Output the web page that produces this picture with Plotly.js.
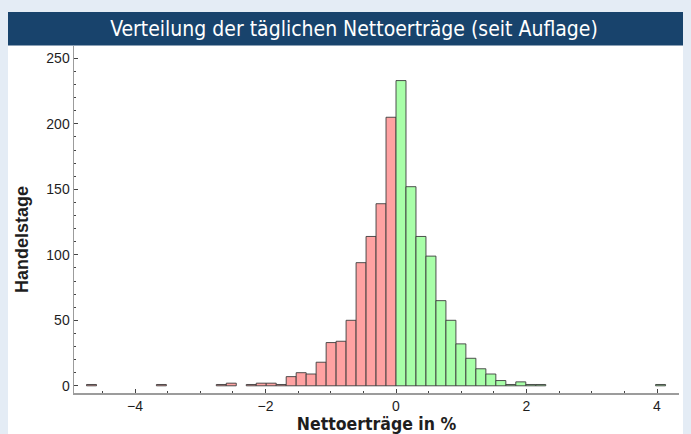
<!DOCTYPE html>
<html>
<head>
<meta charset="utf-8">
<script src="https://cdn.plot.ly/plotly-3.0.1.min.js"></script>
<style>
  html, body { margin: 0; padding: 0; background: #E4ECF5; }
  #chart { width: 691px; height: 434px; }
</style>
</head>
<body>
<div id="chart"></div>
<script>
// Histogram of daily net returns (in %), bin width
const binWidth = 0.153;
// counts for bins left of 0, from bin index -31 up to -1
const negCounts = [1, 0, 0, 0, 0, 0, 0, 1, 0, 0, 0, 0, 0, 1, 2, 0, 1, 2, 2, 1, 7, 10, 9, 18, 33, 34, 50, 94, 114, 139, 205];
// counts for bins right of 0, from bin index 0 up to 26
const posCounts = [233, 152, 114, 99, 65, 50, 32, 21, 13, 9, 4, 1, 3, 1, 1, 0, 0, 0, 0, 0, 0, 0, 0, 0, 0, 0, 1];
const xTickVals = [-4, -2, 0, 2, 4];
const yTickVals = [0, 50, 100, 150, 200, 250];
const chartTitle = 'Verteilung der täglichen Nettoerträge (seit Auflage)';
const xTitle = 'Nettoerträge in %';
const yTitle = 'Handelstage';

const negX = negCounts.map((_, i) => (i - negCounts.length + 0.5) * binWidth);
const posX = posCounts.map((_, i) => (i + 0.5) * binWidth);
// empty bins are not drawn
const shown = arr => arr.map(v => (v === 0 ? null : v));

const W = 691, H = 434;
const M = {l: 74, r: 12, t: 46, b: 41};
const PH = H - M.t - M.b, PW = W - M.l - M.r;
const px2x = p => (p - M.l) / PW;
const py2y = p => (H - M.b - p) / PH;

const traces = [
  {type: 'bar', x: negX, y: shown(negCounts), width: binWidth,
   marker: {color: '#FFA2A2', line: {color: '#3c3c3c', width: 0.9}}, hoverinfo: 'x+y'},
  {type: 'bar', x: posX, y: shown(posCounts), width: binWidth,
   marker: {color: '#A8FFA8', line: {color: '#3c3c3c', width: 0.9}}, hoverinfo: 'x+y'}
];

const tickFont = {family: 'Liberation Sans, Arial, sans-serif', size: 14, color: '#1e1e1e'};

const layout = {
  width: W, height: H,
  margin: M,
  paper_bgcolor: '#E4ECF5',
  plot_bgcolor: '#FFFFFF',
  showlegend: false,
  bargap: 0,
  barmode: 'overlay',
  title: {
    text: chartTitle,
    font: {family: 'Liberation Sans Narrow, DejaVu Sans Condensed, sans-serif', size: 21, color: '#FFFFFF'},
    x: 354 / W, xref: 'container', xanchor: 'center',
    y: 1 - 29 / H, yref: 'container', yanchor: 'middle'
  },
  xaxis: {
    range: [-4.935, 4.337],
    tickvals: xTickVals,
    ticks: 'inside', ticklen: 4, tickcolor: '#444', tickwidth: 1,
    minor: {dtick: 0.5, tick0: 0, ticks: 'inside', ticklen: 2, tickcolor: '#444'},
    showline: true, linecolor: '#9C9C9C', linewidth: 1.5,
    showgrid: false, zeroline: false,
    tickfont: tickFont,
    title: {text: xTitle, standoff: 2,
            font: {family: 'DejaVu Sans Condensed, sans-serif', size: 17.5, color: '#1e1e1e', weight: 'bold'}}
  },
  yaxis: {
    range: [-5.5, 259.4],
    tickvals: yTickVals,
    ticks: 'inside', ticklen: 4, tickcolor: '#444', tickwidth: 1,
    minor: {dtick: 10, tick0: 0, ticks: 'inside', ticklen: 2, tickcolor: '#444'},
    showline: true, linecolor: '#9C9C9C', linewidth: 1.5,
    showgrid: false, zeroline: false,
    tickfont: tickFont
  },
  shapes: [
    {type: 'rect', xref: 'paper', yref: 'paper', layer: 'below',
     x0: px2x(8), x1: px2x(683), y0: py2y(434), y1: py2y(12),
     fillcolor: '#FFFFFF', line: {width: 0}},
    {type: 'rect', xref: 'paper', yref: 'paper', layer: 'below',
     x0: px2x(8), x1: px2x(683), y0: py2y(45.5), y1: py2y(12),
     fillcolor: '#18436C', line: {width: 0}}
  ],
  annotations: [
    {text: yTitle, xref: 'paper', yref: 'paper', x: px2x(22), y: py2y(240),
     textangle: -90, showarrow: false, xanchor: 'center', yanchor: 'middle',
     font: {family: 'Liberation Sans, Arial, sans-serif', size: 18, color: '#1e1e1e', weight: 'bold'}}
  ]
};

Plotly.newPlot('chart', traces, layout, {displayModeBar: false, staticPlot: true});
</script>
</body>
</html>
